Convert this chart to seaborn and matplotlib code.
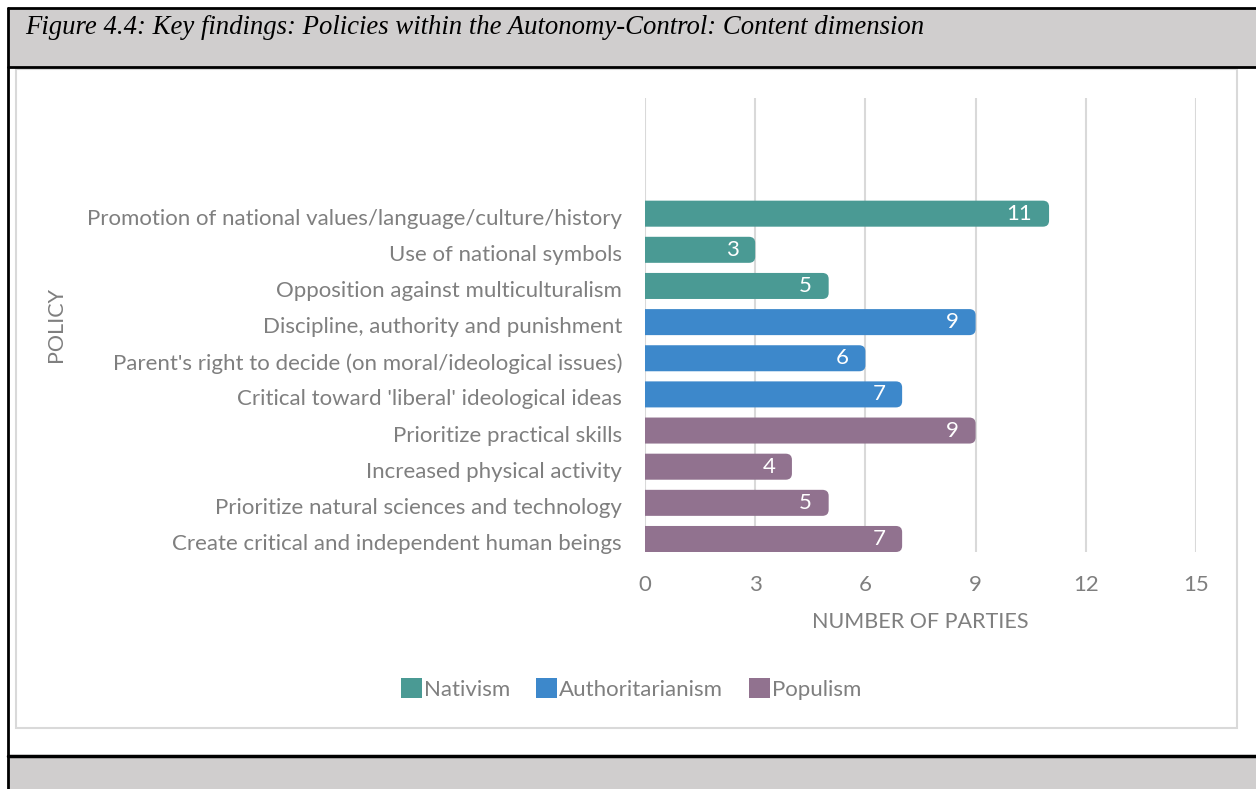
import matplotlib
matplotlib.use("Agg")
import matplotlib.pyplot as plt
import matplotlib.transforms as mtransforms
from matplotlib.patches import Rectangle, FancyBboxPatch, Patch
from matplotlib.lines import Line2D
import seaborn as sns
import pandas as pd

# Policies (top to bottom), their dimension group and party counts
policies = [
    "Promotion of national values/language/culture/history",
    "Use of national symbols",
    "Opposition against multiculturalism",
    "Discipline, authority and punishment",
    "Parent's right to decide (on moral/ideological issues)",
    "Critical toward 'liberal' ideological ideas",
    "Prioritize practical skills",
    "Increased physical activity",
    "Prioritize natural sciences and technology",
    "Create critical and independent human beings",
]
groups = ["Nativism"] * 3 + ["Authoritarianism"] * 3 + ["Populism"] * 4
counts = [11, 3, 5, 9, 6, 7, 9, 4, 5, 7]
group_order = ["Nativism", "Authoritarianism", "Populism"]
group_colors = ["#4A9A94", "#3D88CB", "#91728F"]
x_ticks = [0, 3, 6, 9, 12, 15]

df = pd.DataFrame({"policy": policies, "group": groups, "count": counts})

W, H = 1256, 789
sns.set_theme(style="white")
plt.rcParams["font.family"] = ["Lato", "DejaVu Sans"]
TXT = "#7F7F7F"
FS = 16

fig = plt.figure(figsize=(W / 100, H / 100), dpi=100)
fig.patch.set_facecolor("white")


def fx(px):
    return px / W


def fy(py):
    return 1 - py / H


# Grey caption bands and black table rules
fig.add_artist(Rectangle((fx(8), fy(67)), fx(W - 8), (67 - 8) / H,
                         transform=fig.transFigure, facecolor="#D0CECE",
                         edgecolor="none", zorder=-2))
fig.add_artist(Rectangle((fx(8), 0), fx(W - 8), (H - 757) / H,
                         transform=fig.transFigure, facecolor="#D0CECE",
                         edgecolor="none", zorder=-2))
for (x0, y0, x1, y1, lw) in [(8, 8, W, 8, 2), (8, 67, W, 67, 2),
                             (8, 756, W, 756, 2.5), (8, 8, 8, H, 2)]:
    fig.add_artist(Line2D([fx(x0), fx(x1)], [fy(y0), fy(y1)],
                          transform=fig.transFigure, color="black", lw=lw,
                          zorder=-1))

# Light frame around the chart
fig.add_artist(Rectangle((fx(16), fy(728)), fx(1237 - 16), (728 - 69) / H,
                         transform=fig.transFigure, facecolor="white",
                         edgecolor="#D9D9D9", lw=1.5, zorder=-1.5))

fig.text(fx(25), fy(28), "Figure 4.4: Key findings: Policies within the "
         "Autonomy-Control: Content dimension", family="Liberation Serif",
         style="italic", fontsize=19.3, color="black", va="center", ha="left")

ax = fig.add_axes([fx(645), fy(552), fx(1196 - 645), (552 - 98) / H])
ax.set_facecolor("none")
ax.set_zorder(2)

sns.barplot(data=df, x="count", y="policy", hue="group", hue_order=group_order,
            palette=group_colors, dodge=False, orient="h", width=0.72,
            saturation=1, legend=False, ax=ax, zorder=2)

# Replace the square bar ends with rounded ones
for patch in list(ax.patches):
    w = patch.get_width()
    if w == 0:
        patch.remove()
        continue
    y0 = patch.get_y()
    h = patch.get_height()
    fc = patch.get_facecolor()
    patch.remove()
    rb = FancyBboxPatch((-0.6, y0), w + 0.6, h,
                        boxstyle="round,pad=0,rounding_size=0.17",
                        mutation_aspect=0.99, facecolor=fc, edgecolor="none",
                        zorder=2, clip_on=True)
    ax.add_patch(rb)

for i, v in enumerate(counts):
    ax.annotate(str(v), (v, i), xytext=(-12, 0), textcoords="offset points",
                ha="right", va="center", color="white", fontsize=FS, zorder=3)

ax.set_xlim(0, 15)
ax.set_ylim(9.36, -3.2)
ax.set_xticks(x_ticks)
ax.set_xticklabels([str(t) for t in x_ticks])
ax.grid(axis="x", color="#D9D9D9", lw=1.5, zorder=0)
ax.grid(axis="y", visible=False)
ax.set_axisbelow(True)
for s in ax.spines.values():
    s.set_visible(False)
ax.tick_params(axis="both", length=0, colors=TXT, labelsize=FS)
ax.tick_params(axis="x", pad=16.5)
ax.tick_params(axis="y", pad=16.5)
# policy names sit a touch below the bar centre
shift = mtransforms.ScaledTranslation(0, -3 / 100, fig.dpi_scale_trans)
for lab in ax.get_yticklabels():
    lab.set_transform(lab.get_transform() + shift)
ax.set_xlabel("NUMBER OF PARTIES", color=TXT, fontsize=FS - 0.5, labelpad=12)
ax.set_ylabel("")
fig.text(fx(56), fy(325), "POLICY", rotation=90, color=TXT, fontsize=FS - 0.5,
         ha="center", va="center")

handles = [Patch(facecolor=c, edgecolor="none", label=g)
           for g, c in zip(group_order, group_colors)]
leg = fig.legend(handles=handles, loc="center", bbox_to_anchor=(fx(631), fy(689)),
                 ncol=3, frameon=False, fontsize=FS, handlelength=0.95,
                 handleheight=0.95, handletextpad=0.1, columnspacing=1.15,
                 labelcolor=TXT)

fig.savefig("out.png", dpi=100)
